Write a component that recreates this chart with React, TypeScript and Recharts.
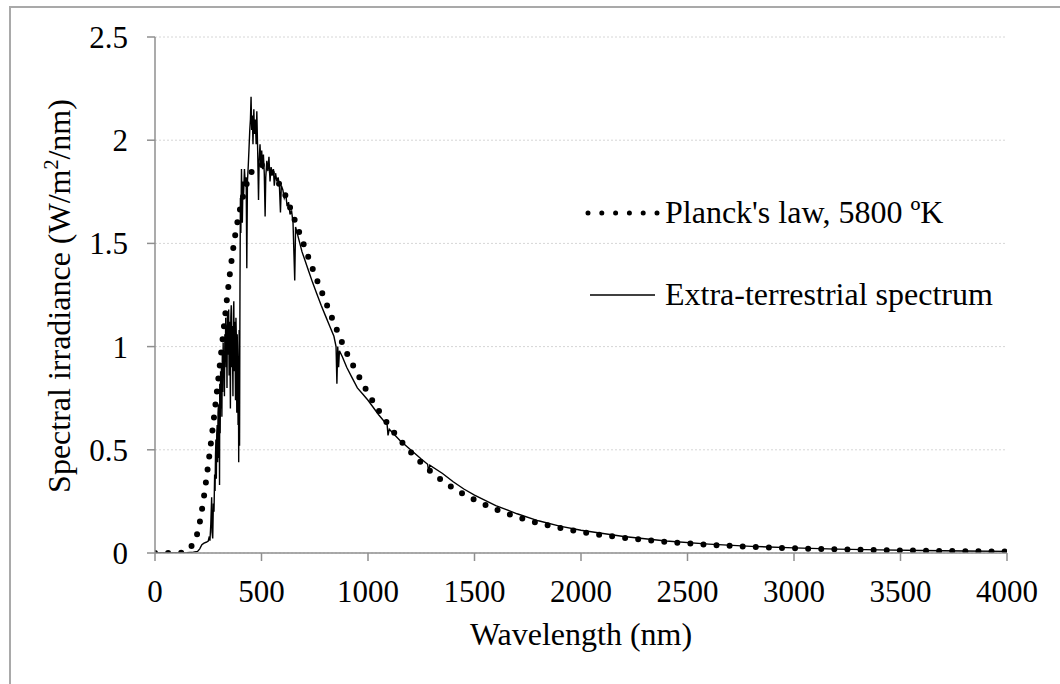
import { CartesianGrid, Customized, Line, LineChart, XAxis, YAxis } from "recharts";

const FONT = "'Liberation Serif', 'Times New Roman', serif";

// Planck's law, 5800 K
const planckWavelength = [
  0, 100, 150, 175, 200, 225, 250, 275, 300, 325, 350, 375, 400, 425, 450, 475,
  500, 525, 550, 575, 600, 650, 700, 750, 800, 850, 900, 950, 1000, 1100, 1200,
  1300, 1400, 1500, 1600, 1700, 1800, 1900, 2000, 2200, 2400, 2600, 2800, 3000,
  3200, 3400, 3600, 3800, 4000,
];
const planckIrradiance = [
  0, 0, 0.008, 0.04, 0.1, 0.24, 0.43, 0.64, 0.87, 1.11, 1.34, 1.53, 1.67, 1.77,
  1.84, 1.87, 1.88, 1.87, 1.84, 1.8, 1.76, 1.63, 1.49, 1.35, 1.22, 1.09, 0.97,
  0.87, 0.775, 0.615, 0.49, 0.39, 0.315, 0.258, 0.212, 0.175, 0.145, 0.122, 0.102,
  0.074, 0.054, 0.04, 0.03, 0.023, 0.018, 0.014, 0.011, 0.009, 0.007,
];

// extra-terrestrial spectrum
const etWavelength = [
  0, 100, 150, 180, 200, 210, 220, 230, 240, 250,
  255, 258, 262, 266, 268, 271, 274, 277, 280, 282,
  284, 286, 288, 290, 292, 294, 296, 298, 300, 302,
  303, 304, 306, 308, 310, 312, 314, 316, 318, 320,
  322, 324, 326, 328, 330, 332, 334, 336, 338, 340,
  342, 344, 346, 348, 350, 352, 354, 356, 358, 360,
  362, 364, 366, 368, 370, 372, 374, 376, 378, 380,
  382, 384, 386, 388, 390, 392, 393, 395, 397, 399,
  401, 403, 406, 410, 413, 416, 420, 424, 428, 431,
  434, 438, 441, 445, 448, 451, 454, 457, 460, 464,
  467, 471, 475, 478, 482, 486, 489, 493, 497, 501,
  505, 509, 513, 517, 520, 525, 530, 535, 540, 545,
  550, 556, 560, 566, 572, 578, 584, 589, 593, 600,
  607, 614, 620, 627, 634, 641, 648, 656, 660, 670,
  680, 690, 700, 720, 740, 760, 780, 800, 820, 840,
  850, 854, 858, 862, 866, 880, 900, 925, 950, 975,
  1000, 1050, 1090, 1094, 1100, 1150, 1200, 1250, 1280, 1285,
  1290, 1350, 1400, 1450, 1500, 1600, 1700, 1800, 1900, 2000,
  2200, 2400, 2600, 2800, 3000, 3200, 3400, 3600, 3800, 4000,
];
const etIrradiance = [
  0, 0, 0.002, 0.004, 0.008, 0.02, 0.04, 0.048, 0.052, 0.058,
  0.08, 0.06, 0.14, 0.27, 0.1, 0.07, 0.24, 0.2, 0.38, 0.3,
  0.47, 0.55, 0.36, 0.58, 0.62, 0.44, 0.68, 0.72, 0.46, 0.62,
  0.33, 0.82, 0.58, 0.88, 0.7, 0.92, 0.66, 0.96, 0.78, 1.02,
  0.86, 0.98, 0.76, 1.06, 0.94, 1.14, 0.9, 1.1, 0.8, 1.16,
  0.96, 1.08, 1.18, 0.86, 1.12, 0.98, 0.7, 1.14, 1.2, 0.9,
  1.1, 0.96, 0.76, 1.16, 1.22, 0.88, 1.12, 1.0, 0.74, 1.14,
  1.04, 0.68, 1.06, 0.95, 0.62, 0.78, 0.44, 1.08, 0.52, 1.3,
  1.72, 1.55, 1.86, 1.6, 1.8, 1.74, 1.86, 1.78, 1.82, 1.38,
  1.8, 1.88, 1.95, 2.05, 2.1, 2.21, 2.05, 2.12, 1.98, 2.15,
  2.03, 2.1, 1.98, 2.14, 1.95, 1.71, 1.9, 1.98, 1.88, 1.95,
  1.86, 1.93, 1.84, 1.63, 1.82, 1.9, 1.85, 1.92, 1.8, 1.87,
  1.84, 1.86, 1.78, 1.84, 1.8, 1.82, 1.78, 1.65, 1.78, 1.76,
  1.72, 1.74, 1.68, 1.7, 1.64, 1.66, 1.6, 1.32, 1.58, 1.54,
  1.5, 1.46, 1.43, 1.37, 1.31, 1.255, 1.2, 1.15, 1.1, 1.05,
  1.0, 0.82, 1.0, 0.9, 0.98, 0.95, 0.9, 0.85, 0.8, 0.77,
  0.74, 0.67, 0.62, 0.57, 0.6, 0.545, 0.5, 0.455, 0.43, 0.39,
  0.425, 0.385, 0.345, 0.31, 0.28, 0.23, 0.19, 0.156, 0.13, 0.11,
  0.08, 0.058, 0.043, 0.032, 0.025, 0.019, 0.015, 0.012, 0.01, 0.008,
];

const xTicks = [0, 500, 1000, 1500, 2000, 2500, 3000, 3500, 4000];
const yTicks = [0, 0.5, 1, 1.5, 2, 2.5];

const planckData = planckWavelength.map((x, i) => ({ x, y: planckIrradiance[i] }));
const etData = etWavelength.map((x, i) => ({ x, y: etIrradiance[i] }));

const AXIS = "#8f8f8f";
const tickStyle = { fontFamily: FONT, fontSize: 31 };
const textStyle = { fontFamily: FONT, fontSize: 32 };

function Overlay() {
  return (
    <g fill="#000">
      <text x={581} y={645} style={textStyle} textAnchor="middle">
        Wavelength (nm)
      </text>
      <text transform="translate(70,296) rotate(-90)" style={textStyle} textAnchor="middle">
        <tspan>Spectral irradiance (W/m</tspan>
        <tspan dy={-12} style={{ fontSize: 20 }}>2</tspan>
        <tspan dy={12}>/nm)</tspan>
      </text>
      {/* legend */}
      <line
        x1={588}
        x2={658}
        y1={213}
        y2={213}
        stroke="#000"
        strokeWidth={5}
        strokeDasharray="0 13.8"
        strokeLinecap="round"
      />
      <text x={665} y={223} style={textStyle}>
        Planck's law, 5800 ºK
      </text>
      <line x1={590} x2={655} y1={295} y2={295} stroke="#000" strokeWidth={1.4} />
      <text x={665} y={305} style={textStyle}>
        Extra-terrestrial spectrum
      </text>
    </g>
  );
}

export default function App() {
  return (
    <div
      style={{
        position: "absolute",
        left: 0,
        top: 0,
        width: 1060,
        height: 684,
        overflow: "hidden",
        background: "#fff",
        fontFamily: FONT,
      }}
    >
      <div
        style={{
          position: "absolute",
          left: 9,
          top: 6,
          width: 1100,
          height: 720,
          border: "2px solid #a9a9a9",
        }}
      />
      <LineChart
        width={1060}
        height={684}
        margin={{ top: 37, right: 53, left: 0, bottom: 0 }}
        style={{ position: "absolute", left: 0, top: 0, fontFamily: FONT }}
      >
        <CartesianGrid vertical={false} stroke="#d6d6d6" strokeDasharray="2 2" />
        <XAxis
          dataKey="x"
          type="number"
          domain={[0, 4000]}
          ticks={xTicks}
          height={131}
          allowDataOverflow
          stroke={AXIS}
          strokeWidth={1.5}
          tickSize={8}
          tickMargin={19}
          tick={{ fill: "#000", style: tickStyle }}
        />
        <YAxis
          type="number"
          domain={[0, 2.5]}
          ticks={yTicks}
          width={155}
          allowDataOverflow
          stroke={AXIS}
          strokeWidth={1.5}
          tickSize={8}
          tickMargin={19}
          tickFormatter={(v) => `${v}`}
          tick={{ fill: "#000", style: tickStyle }}
        />
        <Line
          data={planckData}
          dataKey="y"
          type="monotone"
          stroke="#000"
          strokeWidth={6}
          strokeDasharray="0 13.1"
          strokeLinecap="round"
          dot={false}
          activeDot={false}
          isAnimationActive={false}
        />
        <Line
          data={etData}
          dataKey="y"
          type="linear"
          stroke="#000"
          strokeWidth={1.4}
          dot={false}
          activeDot={false}
          isAnimationActive={false}
        />
        <Customized component={Overlay} />
      </LineChart>
    </div>
  );
}
